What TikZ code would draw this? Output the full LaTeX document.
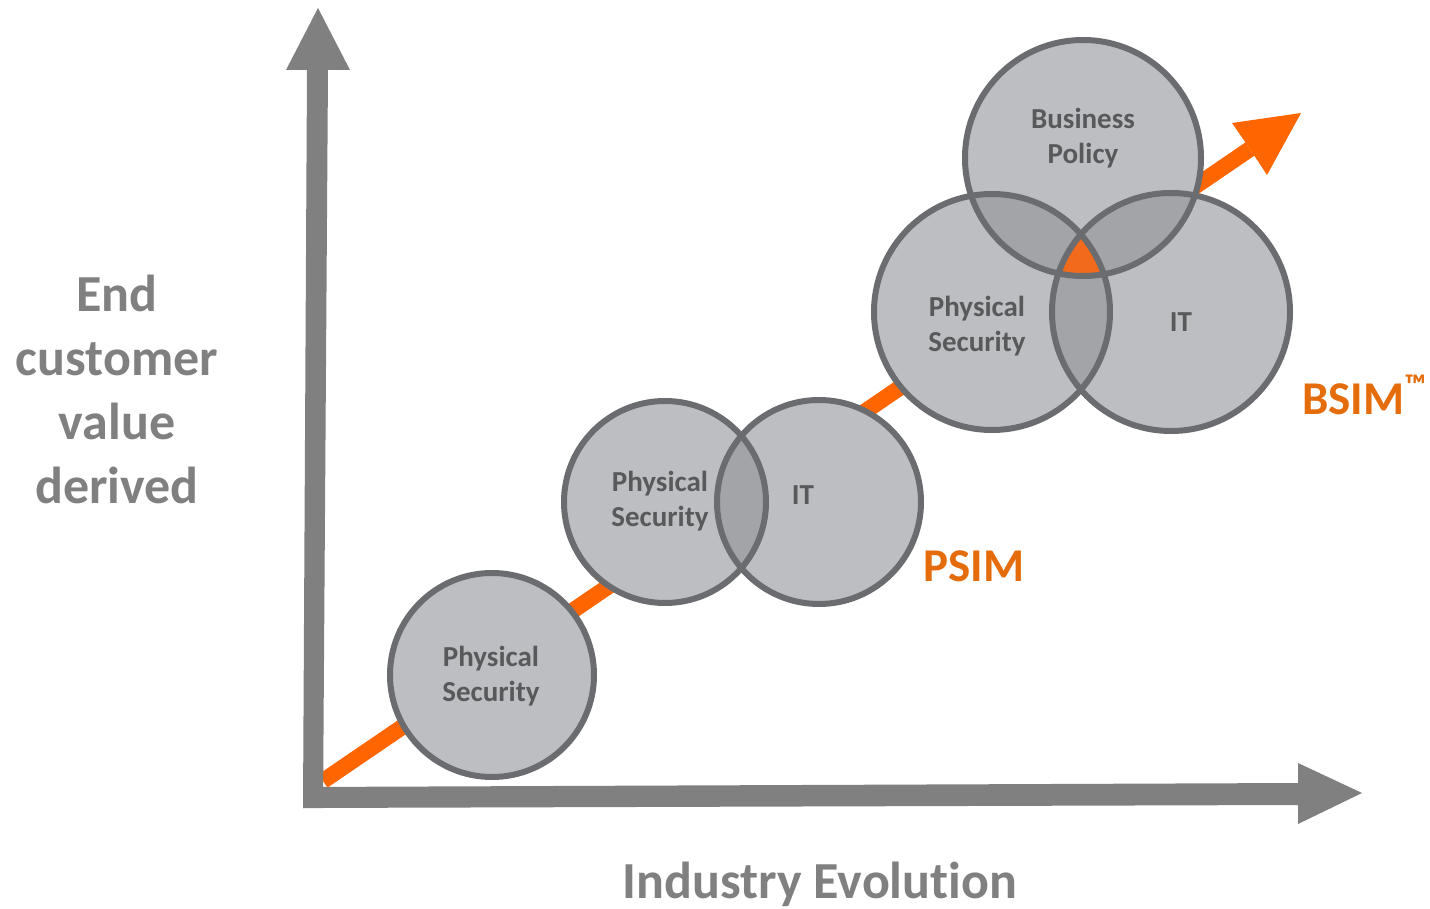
\documentclass[tikz,border=0pt]{standalone}
\usepackage{fontspec}
\setmainfont{Carlito}[Ligatures={NoCommon}]
\definecolor{axisgray}{HTML}{808080}
\definecolor{circfill}{HTML}{BCBEC1}
\definecolor{overfill}{HTML}{A2A4A7}
\definecolor{circline}{HTML}{6B6C6F}
\definecolor{txtgray}{HTML}{58595B}
\definecolor{lblgray}{HTML}{808080}
\definecolor{orangeline}{HTML}{FF6600}
\definecolor{orangetxt}{HTML}{E46C0A}
\definecolor{orangemid}{HTML}{F26A1B}
\tikzset{
  circ/.style={circle, fill=circfill, inner sep=0pt, minimum size=#1},
  circedge/.style={draw=circline, line width=6pt},
  intext/.style={text=txtgray, font=\bfseries\fontsize{29}{35}\selectfont, align=center, inner sep=0pt},
  axlabel/.style={text=lblgray, font=\bfseries\fontsize{52}{64}\selectfont, align=center, inner sep=0pt},
  stage/.style={text=orangetxt, font=\bfseries\fontsize{47}{50}\selectfont, inner sep=0pt},
}
\begin{document}
\begin{tikzpicture}[x=1pt,y=-1pt]
\fill[white] (0,0) rectangle (1430,909);
\useasboundingbox (0,0) rectangle (1430,909);
% orange evolution arrow
\coordinate (os) at (323,781);
\coordinate (ob) at (1250,149);
\coordinate (ot) at (1301,113);
\coordinate (oh1) at (1232,123);
\coordinate (oh2) at (1267,175);
\draw[orangeline, line width=16pt] (os) -- (ob);
\fill[orangeline] (ot) -- (oh1) -- (ob) -- (oh2) -- cycle;
% axes
\fill[axisgray] (303,808) -- (323,808) -- (328,70) -- (307,70) -- cycle;
\fill[axisgray] (286,70) -- (318,8) -- (350,70) -- cycle;
\fill[axisgray] (303,787) -- (303,808) -- (1299,805) -- (1299,783) -- cycle;
\fill[axisgray] (1298,763) -- (1362,793) -- (1298,824) -- cycle;
% circles
\node[circ=204pt] (c1) at (492,675) {};
\node[circ=202pt] (c2) at (665,502) {};
\node[circ=204pt] (c3) at (819,502) {};
\node[circ=236pt] (c4) at (992,312) {};
\node[circ=238pt] (c5) at (1171,312) {};
\node[circ=236pt] (c6) at (1083,158) {};
% overlaps
\begin{scope}
\clip (c2.center) circle[radius=101pt];
\fill[overfill] (c3.center) circle[radius=102pt];
\end{scope}
\begin{scope}
\clip (c4.center) circle[radius=118pt];
\fill[overfill] (c5.center) circle[radius=119pt];
\fill[overfill] (c6.center) circle[radius=118pt];
\end{scope}
\begin{scope}
\clip (c5.center) circle[radius=119pt];
\fill[overfill] (c6.center) circle[radius=118pt];
\end{scope}
\begin{scope}
\clip (c4.center) circle[radius=118pt];
\clip (c5.center) circle[radius=119pt];
\fill[orangemid] (c6.center) circle[radius=118pt];
\end{scope}
% outlines
\draw[circedge] (c1.center) circle[radius=102pt];
\draw[circedge] (c2.center) circle[radius=101pt];
\draw[circedge] (c3.center) circle[radius=102pt];
\draw[circedge] (c4.center) circle[radius=118pt];
\draw[circedge] (c5.center) circle[radius=119pt];
\draw[circedge] (c6.center) circle[radius=118pt];
% texts
\node[intext] (t1) at (491,676) {Physical\\Security};
\node[intext] (t2) at (660,501) {Physical\\Security};
\node[intext] (t3) at (803,495) {IT};
\node[intext] (t4) at (977,326) {Physical\\Security};
\node[intext] (t5) at (1181,322) {IT};
\node[intext] (t6) at (1083,138) {Business\\Policy};
\node[axlabel] (ylab) at (117,389) {End\\customer\\value\\derived};
\node[axlabel] (xlab) at (820,884) {Industry Evolution};
\node[stage] (psim) at (974,566) {PSIM};
\node[stage, anchor=west] (bsim) at (1302,395) {BSIM\raisebox{0.42em}{\fontsize{30}{30}\selectfont ™}};
\end{tikzpicture}
\end{document}
